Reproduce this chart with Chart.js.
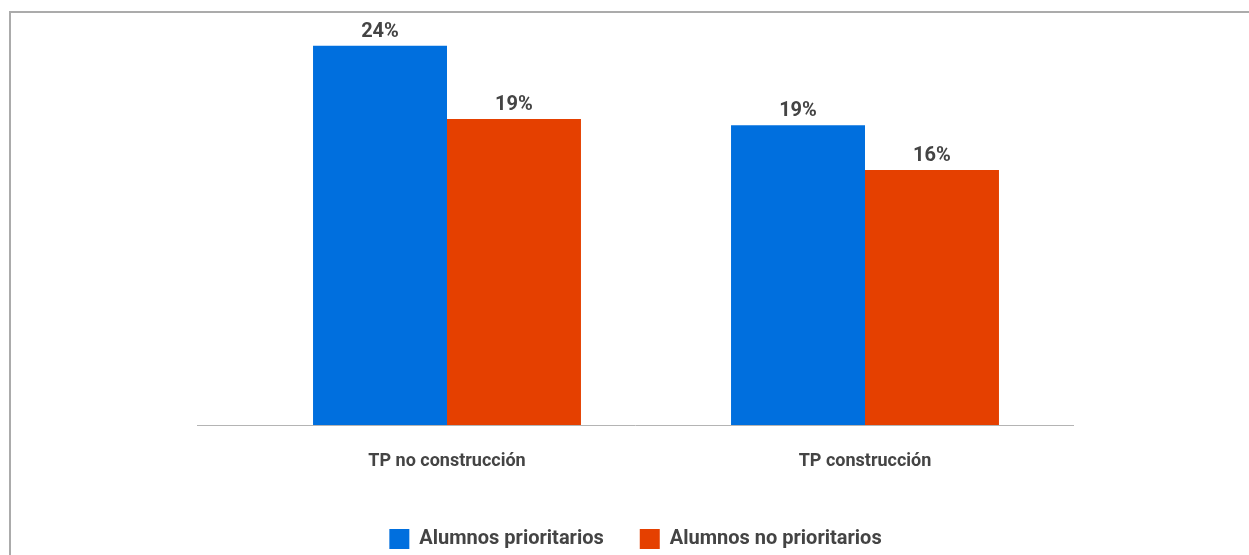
<!DOCTYPE html>
<html>
<head>
<meta charset="utf-8">
<script src="https://cdn.jsdelivr.net/npm/chart.js@4"></script>
<style>
    html, body { margin: 0; padding: 0; background: #fff; overflow: hidden; }
    .frame {
        position: absolute; left: 9px; top: 11px; width: 1300px; height: 600px;
        border-top: 2px solid #ababab; border-left: 2px solid #ababab;
    }
    .wrap { position: absolute; left: 0; top: 0; width: 1249px; height: 559px; }
</style>
</head>
<body>
<div class="frame"></div>
<div class="wrap"><canvas id="chart"></canvas></div>
<script>
// datos (porcentaje por categoria)
let categorias = ['TP no construcción', 'TP construcción'];
let series = ['Alumnos prioritarios', 'Alumnos no prioritarios'];
let prioritarios = [23.8, 18.8];
let noPrioritarios = [19.2, 16.0];
let colores = ['#006fde', '#e54000'];

const gris = '#444444';

// etiquetas de porcentaje encima de cada barra
let etiquetas = {
    id: 'etiquetas',
    afterDatasetsDraw: function (chart) {
        let ctx = chart.ctx;
        ctx.save();
        ctx.font = 'bold 20px Roboto';
        ctx.fillStyle = gris;
        ctx.textAlign = 'center';
        ctx.textBaseline = 'alphabetic';
        chart.data.datasets.forEach(function (ds, i) {
            chart.getDatasetMeta(i).data.forEach(function (bar, j) {
                ctx.fillText(Math.round(ds.data[j]) + '%', bar.x, bar.y - 9);
            });
        });
        ctx.restore();
    }
};

// linea base, empieza donde empieza el eje y
let lineaBase = {
    id: 'lineaBase',
    beforeDatasetsDraw: function (chart) {
        let ctx = chart.ctx;
        let y = chart.scales.y.getPixelForValue(0);
        ctx.save();
        ctx.strokeStyle = '#b4b4b4';
        ctx.lineWidth = 1;
        ctx.beginPath();
        ctx.moveTo(chart.scales.y.left, Math.round(y) + 0.5);
        ctx.lineTo(chart.chartArea.right, Math.round(y) + 0.5);
        ctx.stroke();
        ctx.restore();
    }
};

const ctx = document.getElementById('chart');

new Chart(ctx, {
    type: 'bar',
    data: {
        labels: categorias,
        datasets: [
            {
                label: series[0],
                data: prioritarios,
                backgroundColor: colores[0],
                categoryPercentage: 0.641,
                barPercentage: 1.0
            },
            {
                label: series[1],
                data: noPrioritarios,
                backgroundColor: colores[1],
                categoryPercentage: 0.641,
                barPercentage: 1.0
            }
        ]
    },
    options: {
        responsive: true,
        maintainAspectRatio: false,
        animation: false,
        layout: {
            padding: { left: 197, right: 175, top: 10.56, bottom: 0 }
        },
        scales: {
            x: {
                grid: { display: false },
                border: { display: false },
                ticks: {
                    color: gris,
                    padding: 18,
                    font: { family: 'Roboto', size: 18, weight: 'bold' }
                },
                afterFit: function (scale) { scale.height = 68; }
            },
            y: {
                min: 0,
                max: 26,
                grid: { display: false },
                border: { display: false },
                ticks: { display: false },
                afterFit: function (scale) { scale.width = 41; }
            }
        },
        plugins: {
            legend: {
                position: 'bottom',
                labels: {
                    boxWidth: 20,
                    boxHeight: 20,
                    padding: 36,
                    color: gris,
                    font: { family: 'Roboto', size: 20, weight: 'bold' }
                }
            },
            tooltip: { enabled: false }
        }
    },
    plugins: [lineaBase, etiquetas]
});
</script>
</body>
</html>
